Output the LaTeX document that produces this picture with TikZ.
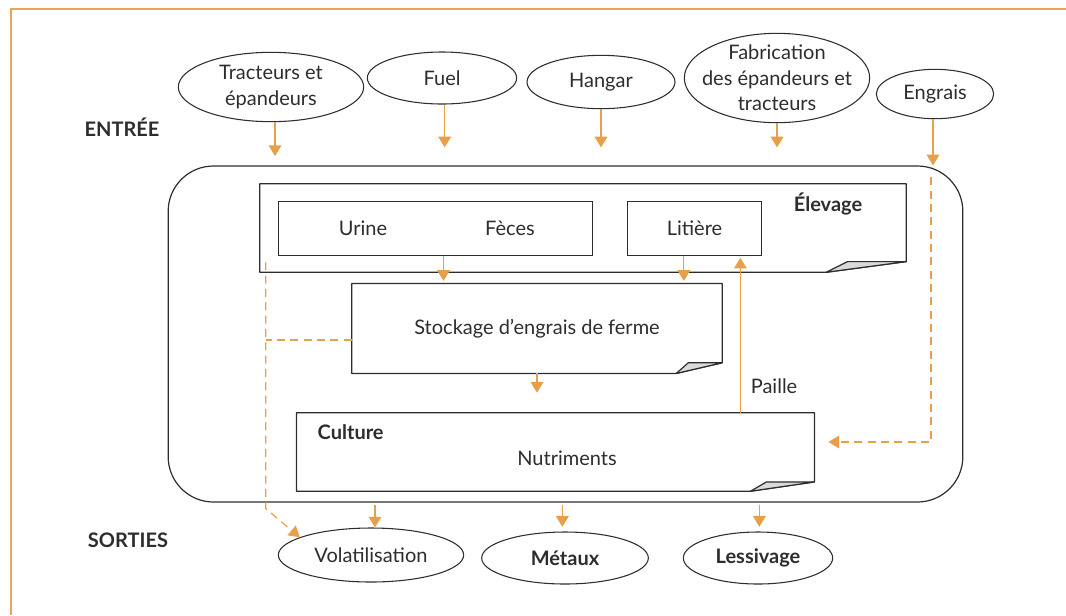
\documentclass[tikz,border=0pt]{standalone}
\usepackage{fontspec}
\setmainfont{Lato}
\usetikzlibrary{shapes.geometric,arrows.meta}

\definecolor{flowcol}{RGB}{232,160,72}
\definecolor{framecol}{RGB}{236,164,88}
\definecolor{foldgray}{RGB}{218,218,218}
\definecolor{inkcol}{RGB}{45,45,45}

\tikzset{
  source/.style={ellipse, draw=inkcol, line width=0.8pt, inner xsep=-12pt, inner ysep=-5pt, align=center},
  title/.style={font=\fontsize{15}{19}\selectfont\bfseries},
  box/.style={draw=inkcol, line width=0.9pt},
  plain/.style={inner sep=0pt},
  boxline/.style={draw=inkcol, line width=0.9pt, line join=round},
  flow/.style={flowcol, line width=0.9pt, -{Triangle[width=9.5pt,length=8pt]}},
  dashflow/.style={flow, dash pattern=on 6pt off 4pt},
  dashline/.style={draw=flowcol, line width=1pt, dash pattern=on 6pt off 4pt}
}

% boite avec coin replie
\newcommand{\folded}[4]{%
  \draw[boxline] (#1.north west) -- (#1.north east) -- ([yshift=#4]#1.south east)
    -- ([xshift=-#2]#1.south east) -- (#1.south west) -- cycle;
  \draw[boxline, fill=foldgray] ([xshift=-#2]#1.south east) -- ([xshift=-#3,yshift=#4]#1.south east)
    -- ([yshift=#4]#1.south east) -- cycle;
}

\begin{document}
\begin{tikzpicture}[x=0.75pt,y=-0.75pt,font=\fontsize{15}{19}\selectfont,text=inkcol]
\useasboundingbox (0,0) rectangle (1066,615);
\draw[framecol, line width=1.2pt] (11,615) -- (11,9) -- (1066,9);

\node[title] (entree) at (122,127) {ENTRÉE};
\node[title] (sorties) at (128,540) {SORTIES};

% entrees
\node[source, minimum width=139pt, minimum height=52pt] (tracteurs) at (271,87) {Tracteurs et\\épandeurs};
\node[source, minimum width=112pt, minimum height=39pt] (fuel) at (442,78) {Fuel};
\node[source, minimum width=111pt, minimum height=40pt] (hangar) at (601,82) {Hangar};
\node[source, minimum width=139pt, minimum height=67pt] (fabrication) at (777,78) {Fabrication\\des épandeurs et\\tracteurs};
\node[source, minimum width=88pt, minimum height=37pt] (engrais) at (935,94) {Engrais};

% exploitation
\node[draw=inkcol, line width=0.9pt, rounded corners=34pt, minimum width=596pt, minimum height=252pt] (ferme) at (565.5,334) {};

\node[plain, minimum width=484.5pt, minimum height=66pt] (elevage) at (583,228) {};
\folded{elevage}{60pt}{44pt}{8pt}
\node[title] (elevagetxt) at (828,204) {Élevage};
\node[box, minimum width=236pt, minimum height=40pt] (dejections) at (435.5,228.5) {};
\node (urine) at (363,228) {Urine};
\node (feces) at (510,228) {Fèces};
\node[box, minimum width=100pt, minimum height=40pt] (litiere) at (694.5,228.5) {Litière};

\node[plain, minimum width=277.5pt, minimum height=67pt] (stockage) at (537,328.5) {Stockage d’engrais de ferme};
\folded{stockage}{34.5pt}{25.5pt}{8pt}

\node[plain, minimum width=388pt, minimum height=58.5pt] (culture) at (555.5,452) {};
\folded{culture}{48pt}{36pt}{7pt}
\node[title, anchor=west] (culturetxt) at (313,432) {Culture};
\node (nutriments) at (567,458) {Nutriments};

% sorties
\node[source, minimum width=139pt, minimum height=40.5pt] (volatilisation) at (371,555) {Volatilisation};
\node[source, minimum width=125pt, minimum height=39pt, font=\fontsize{15}{19}\selectfont\bfseries] (metaux) at (565,558) {Métaux};
\node[source, minimum width=112pt, minimum height=39pt, font=\fontsize{15}{19}\selectfont\bfseries] (lessivage) at (758,558) {Lessivage};

% fleches d'entree
\draw[flow] ([xshift=3pt]tracteurs.south) -- ([xshift=3pt,yshift=7pt]tracteurs.south |- ferme.north);
\draw[flow] ([xshift=2pt]fuel.south) -- ([xshift=2pt,yshift=13.5pt]fuel.south |- ferme.north);
\draw[flow] (hangar.south) -- ([yshift=13.5pt]hangar.south |- ferme.north);
\draw[flow] (fabrication.south) -- ([yshift=13.5pt]fabrication.south |- ferme.north);
\draw[flow] ([xshift=-1.5pt]engrais.south) -- ([xshift=-1.5pt]engrais.south |- ferme.north);

% flux internes
\draw[flow] ([xshift=6pt]dejections.south) -- ([xshift=6pt,yshift=2pt]dejections.south |- stockage.north);
\draw[flow] ([xshift=-8pt]litiere.south) -- ([xshift=-8pt,yshift=2pt]litiere.south |- stockage.north);
\draw[flow] (stockage.south) -- ([yshift=15pt]stockage.south |- culture.north);
\draw[flow, line width=1pt] ([xshift=34.4pt]litiere.south |- culture.north) -- node[pos=0.17, anchor=west, xshift=4pt, text=inkcol] (paille) {Paille} ([xshift=34.4pt,yshift=-1.5pt]litiere.south);

% engrais vers culture
\draw[dashflow] ([xshift=-3pt,yshift=-9pt]engrais.south |- ferme.north) |- ([xshift=10.5pt,yshift=7.5pt]culture.east);

% volatilisation
\coordinate (drain) at ([xshift=4.5pt,yshift=7.5pt]elevage.south west);
\draw[dashline] ([yshift=-8.5pt]stockage.west) -- ([yshift=-8.5pt]stockage.west -| drain);
\draw[dashflow] (drain) -- ([yshift=-4.5pt]drain |- ferme.south) -- (volatilisation.166);

% fleches de sortie
\draw[flow] ([xshift=3pt,yshift=-1.5pt]volatilisation.north |- ferme.south) -- ([xshift=3pt]volatilisation.north);
\draw[flow] ([xshift=-2pt,yshift=-1.5pt]metaux.north |- ferme.south) -- ([xshift=-2pt,yshift=3.5pt]metaux.north);
\draw[flow] ([xshift=1pt,yshift=-1.5pt]lessivage.north |- ferme.south) -- ([xshift=1pt,yshift=3.5pt]lessivage.north);
\end{tikzpicture}
\end{document}
